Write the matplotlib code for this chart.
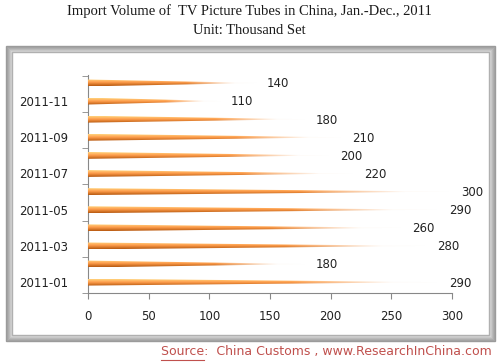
import numpy as np
import matplotlib.pyplot as plt
from matplotlib.patches import Polygon, Rectangle
from matplotlib.colors import to_rgb

months = ["2011-01", "2011-02", "2011-03", "2011-04", "2011-05", "2011-06",
          "2011-07", "2011-08", "2011-09", "2011-10", "2011-11", "2011-12"]
volume = [290, 180, 280, 260, 290, 300, 220, 200, 210, 180, 110, 140]
x_ticks = [0, 50, 100, 150, 200, 250, 300]

W, H = 498, 362
fig = plt.figure(figsize=(W / 100, H / 100), dpi=100)


def px(x0, y0, x1, y1):
    # pixel box (top-left origin) -> figure fraction [l, b, w, h]
    return [x0 / W, 1 - y1 / H, (x1 - x0) / W, (y1 - y0) / H]


# beveled gray frame, dark outside -> light inside
greys = ["#9a9a9a", "#a2a2a2", "#acacac", "#b8b8b8", "#c6c6c6", "#d4d4d4", "#b0b0b0"]
for k, col in enumerate(greys):
    l, b, w, h = px(5.5 + k, 45.5 + k, 494.5 - k, 340.5 - k)
    fig.patches.append(Rectangle((l, b), w, h, transform=fig.transFigure,
                                 fill=False, edgecolor=col, linewidth=1.0))

fig.text(0.5, 1 - 11 / H, "Import Volume of  TV Picture Tubes in China, Jan.-Dec., 2011",
         ha="center", va="center", family="Liberation Serif", fontsize=10.5, color="#1a1a1a")
fig.text(0.5, 1 - 30 / H, "Unit: Thousand Set", ha="center", va="center",
         family="Liberation Serif", fontsize=10.5, color="#1a1a1a")

ax = fig.add_axes(px(88, 75, 452, 293))
ax.set_facecolor("none")

base = np.array(to_rgb("#f79646"))
top = np.array(to_rgb("#fcd0a8"))
bottom = np.array(to_rgb("#b85a10"))
bar_h = 0.38

for i, v in enumerate(volume):
    nx, ny = 200, 20
    t = np.linspace(0, 1, nx)
    s = np.linspace(0, 1, ny)[:, None]  # 0 = bottom, 1 = top
    # vertical shading: dark bottom, light top
    shade = np.where(s < 0.5, bottom + (base - bottom) * (s / 0.5)[..., None],
                     base + (top - base) * ((s - 0.5) / 0.5)[..., None])
    shade = shade[:, 0, :]
    img = np.zeros((ny, nx, 4))
    img[..., :3] = shade[:, None, :]
    alpha = np.clip((0.88 - t) / 0.3, 0.04, 1.0)
    img[..., 3] = alpha[None, :]
    im = ax.imshow(img, extent=[0, v, i - bar_h / 2, i + bar_h / 2], origin="lower",
                   aspect="auto", interpolation="bilinear", zorder=3)
    tri = Polygon([[0, i - bar_h / 2], [0, i + bar_h / 2], [v, i]], closed=True,
                  facecolor="none", edgecolor="none", transform=ax.transData)
    ax.add_patch(tri)
    im.set_clip_path(tri)
    ax.text(v + 7.5, i - 0.05, str(v), ha="left", va="center", fontsize=8.5,
            family="DejaVu Sans", color="#222222")

ax.set_xlim(0, 300)
ax.set_ylim(-0.6, 11.44)
ax.set_xticks(x_ticks)
ax.set_yticks(range(0, 12, 2))
ax.set_yticklabels(months[::2])
ax.set_yticks(np.arange(-0.6, 11.5, 2), minor=True)
ax.tick_params(axis="y", which="major", length=0, pad=14, labelsize=8.5, labelcolor="#222222")
ax.tick_params(axis="y", which="minor", length=4, color="#888888")
ax.tick_params(axis="x", length=4, color="#888888", labelsize=8.5, labelcolor="#222222", pad=8)
for side in ["top", "right"]:
    ax.spines[side].set_visible(False)
for side in ["left", "bottom"]:
    ax.spines[side].set_color("#888888")

src = fig.text(1 - 6 / W, 1 - 352 / H, "Source:  China Customs , www.ResearchInChina.com",
               ha="right", va="center", fontsize=9, color="#c0504d", family="DejaVu Sans")
fig.canvas.draw()
r = fig.canvas.get_renderer()
bb = src.get_window_extent(r)
word = fig.text(0, 0, "Source", fontsize=9, family="DejaVu Sans")
wb = word.get_window_extent(r)
word.remove()
y_line = bb.y0 - 1
fig.add_artist(plt.Line2D([bb.x0 / W, (bb.x0 + wb.width) / W], [y_line / H, y_line / H],
                          transform=fig.transFigure, color="#c0504d", linewidth=0.8))

fig.savefig("out.png", dpi=100)
